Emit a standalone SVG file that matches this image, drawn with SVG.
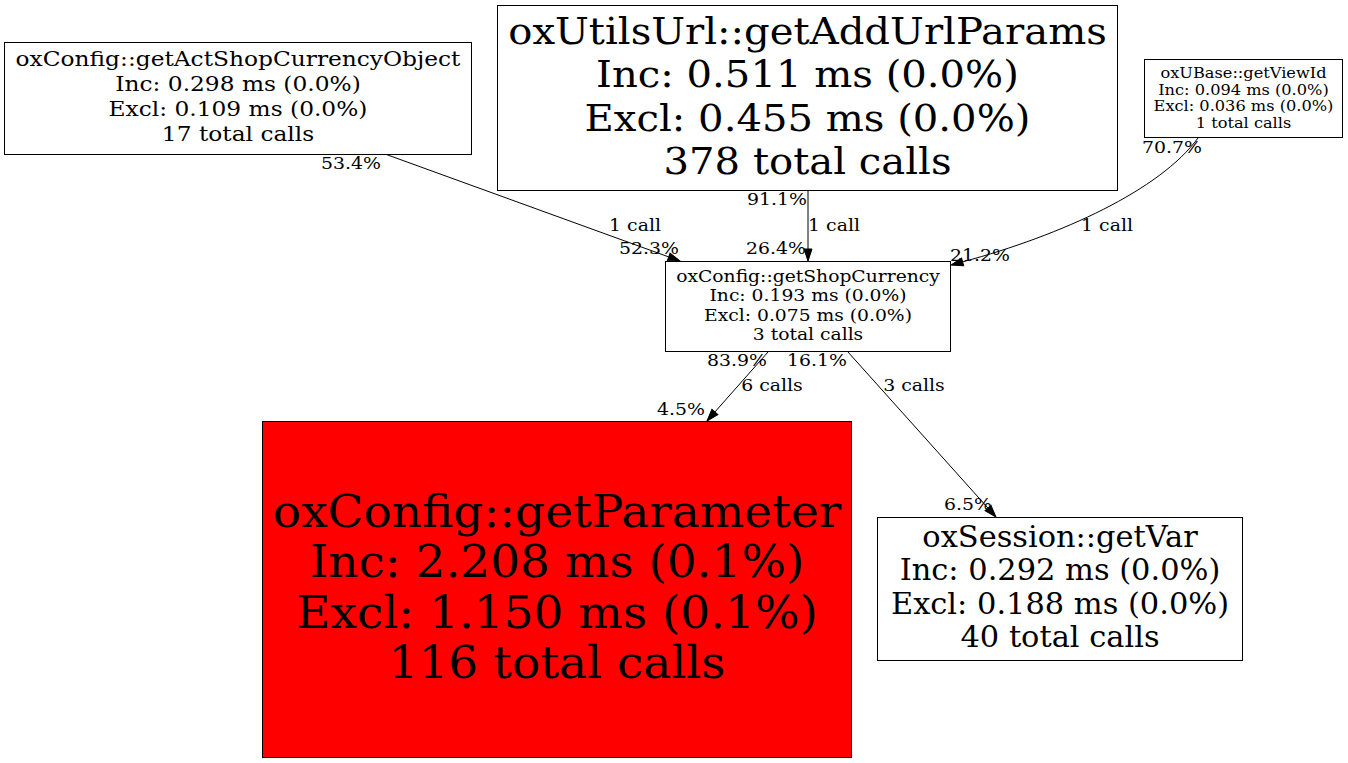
<svg xmlns="http://www.w3.org/2000/svg" width="1348" height="763" viewBox="0 0 1348 763">
<style>
text{font-family:"DejaVu Serif","Liberation Serif",serif;fill:#000;text-anchor:middle}
.box{stroke:#000;stroke-width:1;fill:#fff}
.red{fill:#ff0000}
.edge{stroke:#000;stroke-width:1;fill:none}
.lbl{font-size:17.4px}
.f1{font-size:21px}
.f2{font-size:37px}
.f3{font-size:14.6px}
.f4{font-size:17.3px}
.f5{font-size:45.3px}
.f6{font-size:29px}
</style>
<defs>
<marker id="arr" markerWidth="14" markerHeight="10" refX="0" refY="4" orient="auto" markerUnits="userSpaceOnUse" overflow="visible">
<path d="M0,0 L12,4 L0,8 z" fill="#000" stroke="#000" stroke-width="1"/>
</marker>
</defs>
<rect width="1348" height="763" fill="#fff"/>
<g id="connectors">
<path class="edge" d="M385,154 L668.7,256.9" marker-end="url(#arr)"/>
<path class="edge" d="M808,191 L808,249" marker-end="url(#arr)"/>
<path class="edge" d="M1198,138 C1160,190 1062,235 962.6,261.9" marker-end="url(#arr)"/>
<path class="edge" d="M768,352 L714.9,412" marker-end="url(#arr)"/>
<path class="edge" d="M848,352 L988,508.1" marker-end="url(#arr)"/>
<text class="lbl" transform="translate(351 0) scale(1.085 1)" x="0" y="169.5">53.4%</text>
<text class="lbl" transform="translate(635 0) scale(1.085 1)" x="0" y="231.5">1 call</text>
<text class="lbl" transform="translate(649 0) scale(1.085 1)" x="0" y="254.5">52.3%</text>
<text class="lbl" transform="translate(777 0) scale(1.085 1)" x="0" y="205.5">91.1%</text>
<text class="lbl" transform="translate(834 0) scale(1.085 1)" x="0" y="231.5">1 call</text>
<text class="lbl" transform="translate(776 0) scale(1.085 1)" x="0" y="254.5">26.4%</text>
<text class="lbl" transform="translate(1172 0) scale(1.085 1)" x="0" y="153.5">70.7%</text>
<text class="lbl" transform="translate(1107 0) scale(1.085 1)" x="0" y="231.5">1 call</text>
<text class="lbl" transform="translate(980 0) scale(1.085 1)" x="0" y="261.5">21.2%</text>
<text class="lbl" transform="translate(737 0) scale(1.085 1)" x="0" y="366.5">83.9%</text>
<text class="lbl" transform="translate(817 0) scale(1.085 1)" x="0" y="366.5">16.1%</text>
<text class="lbl" transform="translate(772 0) scale(1.085 1)" x="0" y="391.5">6 calls</text>
<text class="lbl" transform="translate(914 0) scale(1.085 1)" x="0" y="391.5">3 calls</text>
<text class="lbl" transform="translate(681 0) scale(1.085 1)" x="0" y="415.5">4.5%</text>
<text class="lbl" transform="translate(968 0) scale(1.085 1)" x="0" y="510.5">6.5%</text>
</g>
<g id="n_getActShopCurrencyObject">
<rect class="box" x="4.5" y="42.5" width="467" height="112"/>
<g transform="translate(238 0) scale(1.11 1)">
<text class="f1" x="0" y="66">oxConfig::getActShopCurrencyObject</text>
<text class="f1" x="0" y="91">Inc: 0.298 ms (0.0%)</text>
<text class="f1" x="0" y="116">Excl: 0.109 ms (0.0%)</text>
<text class="f1" x="0" y="141">17 total calls</text>
</g>
</g>
<g id="n_getAddUrlParams">
<rect class="box" x="497.5" y="5.5" width="620" height="185"/>
<g transform="translate(807.5 0) scale(1.085 1)">
<text class="f2" x="0" y="44">oxUtilsUrl::getAddUrlParams</text>
<text class="f2" x="0" y="87.5">Inc: 0.511 ms (0.0%)</text>
<text class="f2" x="0" y="131">Excl: 0.455 ms (0.0%)</text>
<text class="f2" x="0" y="174.5">378 total calls</text>
</g>
</g>
<g id="n_getViewId">
<rect class="box" x="1144.5" y="59.5" width="198" height="78"/>
<g transform="translate(1243.5 0) scale(1.11 1)">
<text class="f3" x="0" y="78">oxUBase::getViewId</text>
<text class="f3" x="0" y="95">Inc: 0.094 ms (0.0%)</text>
<text class="f3" x="0" y="111.5">Excl: 0.036 ms (0.0%)</text>
<text class="f3" x="0" y="128">1 total calls</text>
</g>
</g>
<g id="n_getShopCurrency">
<rect class="box" x="665.5" y="261.5" width="285" height="90"/>
<g transform="translate(808 0) scale(1.082 1)">
<text class="f4" x="0" y="282">oxConfig::getShopCurrency</text>
<text class="f4" x="0" y="301.5">Inc: 0.193 ms (0.0%)</text>
<text class="f4" x="0" y="321">Excl: 0.075 ms (0.0%)</text>
<text class="f4" x="0" y="340.5">3 total calls</text>
</g>
</g>
<g id="n_getParameter">
<rect class="box red" x="262.5" y="421.5" width="589" height="336"/>
<g transform="translate(557 0) scale(1.037 1)">
<text class="f5" x="0" y="527">oxConfig::getParameter</text>
<text class="f5" x="0" y="577.5">Inc: 2.208 ms (0.1%)</text>
<text class="f5" x="0" y="628">Excl: 1.150 ms (0.1%)</text>
<text class="f5" x="0" y="678.5">116 total calls</text>
</g>
</g>
<g id="n_getVar">
<rect class="box" x="877.5" y="517.5" width="365" height="143"/>
<g transform="translate(1060 0) scale(1.05 1)">
<text class="f6" x="0" y="547">oxSession::getVar</text>
<text class="f6" x="0" y="580.5">Inc: 0.292 ms (0.0%)</text>
<text class="f6" x="0" y="614">Excl: 0.188 ms (0.0%)</text>
<text class="f6" x="0" y="647.5">40 total calls</text>
</g>
</g>
</svg>
